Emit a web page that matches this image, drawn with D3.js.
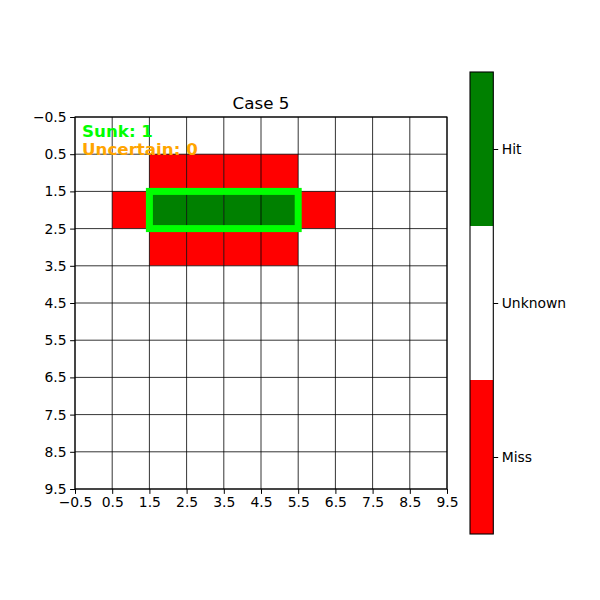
<!DOCTYPE html>
<html><head><meta charset="utf-8">
<script src="https://cdn.jsdelivr.net/npm/d3@7"></script>
<style>body{margin:0;background:#fff}svg{display:block;font-family:"DejaVu Sans",sans-serif}</style>
</head><body><svg id="c" width="600" height="600"></svg>
<script>
// Board state: -1 = Miss, 0 = Unknown, 1 = Hit
const board = [
  [0,0,0,0,0,0,0,0,0,0],
  [0,0,-1,-1,-1,-1,0,0,0,0],
  [0,-1,1,1,1,1,-1,0,0,0],
  [0,0,-1,-1,-1,-1,0,0,0,0],
  [0,0,0,0,0,0,0,0,0,0],
  [0,0,0,0,0,0,0,0,0,0],
  [0,0,0,0,0,0,0,0,0,0],
  [0,0,0,0,0,0,0,0,0,0],
  [0,0,0,0,0,0,0,0,0,0],
  [0,0,0,0,0,0,0,0,0,0]
];
const tickValues = [-0.5,0.5,1.5,2.5,3.5,4.5,5.5,6.5,7.5,8.5,9.5];
const stateValues = [-1, 0, 1];
const stateLabels = ["Miss", "Unknown", "Hit"];
const stateColors = ["#ff0000", "#ffffff", "#008000"];
// sunk ship: [col0, row0, col1, row1] in cell index
const sunkShips = [[2, 2, 5, 2]];
const title = "Case 5";
const sunkCount = 1, uncertainCount = 0;

const svg = d3.select("#c");
const x = d3.scaleLinear().domain([-0.5, 9.5]).range([75, 447]);
const y = d3.scaleLinear().domain([-0.5, 9.5]).range([117, 489]);
const color = d3.scaleOrdinal().domain(stateValues).range(stateColors);
const fmt = d => d < 0 ? "\u2212" + Math.abs(d).toFixed(1) : d.toFixed(1);

// cells
const cells = [];
board.forEach((row, r) => row.forEach((v, c) => cells.push({r, c, v})));
svg.append("g").selectAll("rect").data(cells).join("rect")
  .attr("x", d => x(d.c - 0.5)).attr("y", d => y(d.r - 0.5))
  .attr("width", x(1) - x(0)).attr("height", y(1) - y(0))
  .attr("fill", d => color(d.v));

// grid
const grid = svg.append("g").attr("stroke", "#000").attr("stroke-width", 0.8);
grid.selectAll("line.v").data(tickValues).join("line").attr("class","v")
  .attr("x1", d => x(d)).attr("x2", d => x(d)).attr("y1", y(-0.5)).attr("y2", y(9.5));
grid.selectAll("line.h").data(tickValues).join("line").attr("class","h")
  .attr("y1", d => y(d)).attr("y2", d => y(d)).attr("x1", x(-0.5)).attr("x2", x(9.5));

// sunk ship outlines
svg.append("g").selectAll("rect").data(sunkShips).join("rect")
  .attr("x", d => x(d[0] - 0.5)).attr("y", d => y(d[1] - 0.5))
  .attr("width", d => x(d[2] + 0.5) - x(d[0] - 0.5))
  .attr("height", d => y(d[3] + 0.5) - y(d[1] - 0.5))
  .attr("fill", "none").attr("stroke", "#00ff00").attr("stroke-width", 7);

// axes
const xAxis = d3.axisBottom(x).tickValues(tickValues).tickFormat(fmt).tickSize(4.9).tickPadding(3.5);
const yAxis = d3.axisLeft(y).tickValues(tickValues).tickFormat(fmt).tickSize(4.9).tickPadding(3.5);
const gx = svg.append("g").attr("transform", `translate(0,${y(9.5)})`).call(xAxis);
const gy = svg.append("g").attr("transform", `translate(${x(-0.5)},0)`).call(yAxis);
[gx, gy].forEach(g => {
  g.select(".domain").remove();
  g.selectAll("line").attr("stroke", "#000").attr("stroke-width", 1);
  g.selectAll("text").attr("font-size", 13.9).attr("fill", "#000").attr("font-family", "DejaVu Sans");
});
// spines
svg.append("rect").attr("x", x(-0.5)).attr("y", y(-0.5))
  .attr("width", x(9.5) - x(-0.5)).attr("height", y(9.5) - y(-0.5))
  .attr("fill", "none").attr("stroke", "#000").attr("stroke-width", 1.1);

// title
svg.append("text").attr("x", (x(-0.5) + x(9.5)) / 2).attr("y", 109)
  .attr("text-anchor", "middle").attr("font-size", 16.7).text(title);

// annotations
svg.append("text").attr("x", 82).attr("y", 137).attr("font-size", 16.7).attr("font-weight", "bold")
  .attr("fill", "#00ff00").text("Sunk: " + sunkCount);
svg.append("text").attr("x", 82).attr("y", 155).attr("font-size", 16.7).attr("font-weight", "bold")
  .attr("fill", "#ffa500").text("Uncertain: " + uncertainCount);

// colorbar
const cb = d3.scaleLinear().domain([-1.5, 1.5]).range([534, 72]);
const cbx = 470, cbw = 23.3;
svg.append("g").selectAll("rect").data(stateValues).join("rect")
  .attr("x", cbx).attr("y", d => cb(d + 0.5)).attr("width", cbw)
  .attr("height", d => cb(d - 0.5) - cb(d + 0.5)).attr("fill", d => color(d));
svg.append("rect").attr("x", cbx).attr("y", cb(1.5)).attr("width", cbw)
  .attr("height", cb(-1.5) - cb(1.5)).attr("fill", "none").attr("stroke", "#000").attr("stroke-width", 1.1);
const cAxis = d3.axisRight(cb).tickValues(stateValues).tickFormat((d, i) => stateLabels[i]).tickSize(4.9).tickPadding(3.5);
const gc = svg.append("g").attr("transform", `translate(${cbx + cbw},0)`).call(cAxis);
gc.select(".domain").remove();
gc.selectAll("line").attr("stroke", "#000").attr("stroke-width", 1);
gc.selectAll("text").attr("font-size", 13.9).attr("fill", "#000").attr("font-family", "DejaVu Sans");
</script></body></html>
